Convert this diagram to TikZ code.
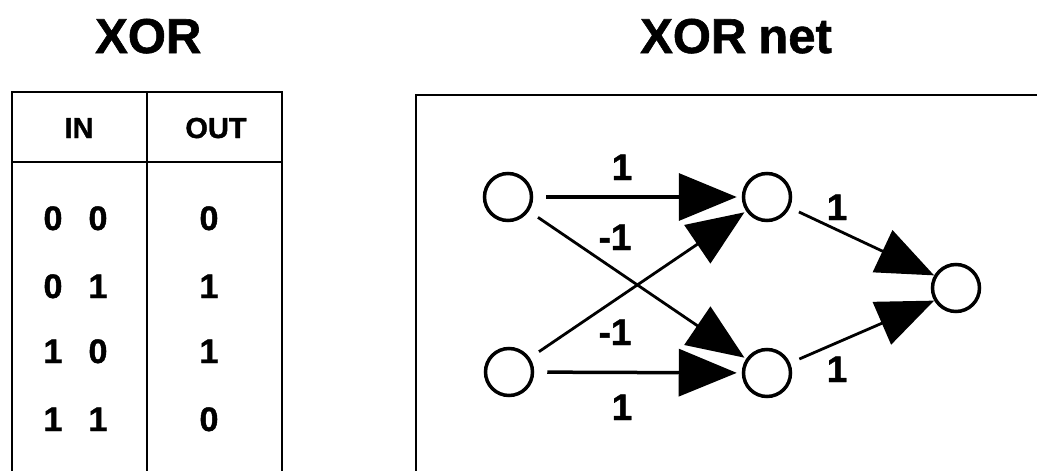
\documentclass[tikz,border=0pt]{standalone}
\usepackage{fontspec}
\setmainfont{Liberation Sans}
\newfontfamily\heavy[FakeBold=1.2]{Liberation Sans}
\usetikzlibrary{arrows.meta}
\begin{document}
\begin{tikzpicture}[x=1pt,y=-1pt,
  frame/.style={line width=2.5pt,line cap=rect},
  neuron/.style={circle,draw,line width=3.5pt,minimum size=47pt,inner sep=0pt},
  conn/.style={line width=3.5pt,-{Triangle[length=58pt,width=47pt]}},
  cross/.style={line width=2.8pt,-{Triangle[length=57pt,width=46pt]}},
  title/.style={font=\fontsize{49}{49}\selectfont\heavy\bfseries,anchor=base west,inner sep=0pt},
  wlabel/.style={font=\fontsize{37}{37}\selectfont\heavy\bfseries,anchor=base,inner sep=0pt},
  head/.style={font=\fontsize{29}{29}\selectfont\heavy\bfseries,anchor=base,inner sep=0pt},
  cell/.style={font=\fontsize{34}{34}\selectfont\heavy\bfseries,anchor=base,inner sep=0pt}]
\useasboundingbox (0,0) rectangle (1037,471);
\fill[white] (0,0) rectangle (1037,471);

% titles
\node[title] (ttab) at (95,53) {XOR};
\node[title] (tnet) at (640,53) {XOR\hspace{12pt}net};

% truth table
\draw[frame] (12,471) -- (12,92) -- (282,92) -- (282,471);
\draw[frame] (147,92) -- (147,471);
\draw[frame] (12,162) -- (282,162);
\node[head] (hin) at (79,138) {IN};
\node[head] (hout) at (216,138) {OUT};
\node[cell] (a1) at (53,230) {0};  \node[cell] (b1) at (98,230) {0};  \node[cell] (o1) at (209,230) {0};
\node[cell] (a2) at (53,298) {0};  \node[cell] (b2) at (98,298) {1};  \node[cell] (o2) at (209,298) {1};
\node[cell] (a3) at (53,363) {1};  \node[cell] (b3) at (98,363) {0};  \node[cell] (o3) at (209,363) {1};
\node[cell] (a4) at (53,431) {1};  \node[cell] (b4) at (98,431) {1};  \node[cell] (o4) at (209,431) {0};

% net frame
\draw[frame] (416,471) -- (416,95) -- (1040,95);

% neurons
\node[neuron] (in1) at (508,197) {};
\node[neuron] (in2) at (509,372) {};
\node[neuron] (h1) at (767,197) {};
\node[neuron] (h2) at (767,373) {};
\node[neuron] (out) at (956,288) {};

% connections
\draw[conn, shorten <=13pt, shorten >=5pt] (in1) -- (h1);
\draw[conn, shorten <=13pt, shorten >=5pt] (in2) -- (h2);
\draw[cross, shorten <=11pt, shorten >=2pt] (in1) -- (h2);
\draw[cross, shorten <=11pt, shorten >=2pt] (in2) -- (h1);
\draw[cross, shorten <=10pt] (h1) -- (out.150);
\draw[cross, shorten <=10pt] (h2) -- (out.210);

% weights
\node[wlabel] (w1) at (622,180) {1};
\node[wlabel] (w2) at (615,250) {-1};
\node[wlabel] (w3) at (615,345) {-1};
\node[wlabel] (w4) at (622,420) {1};
\node[wlabel] (w5) at (837,220) {1};
\node[wlabel] (w6) at (837,382) {1};
\end{tikzpicture}
\end{document}
